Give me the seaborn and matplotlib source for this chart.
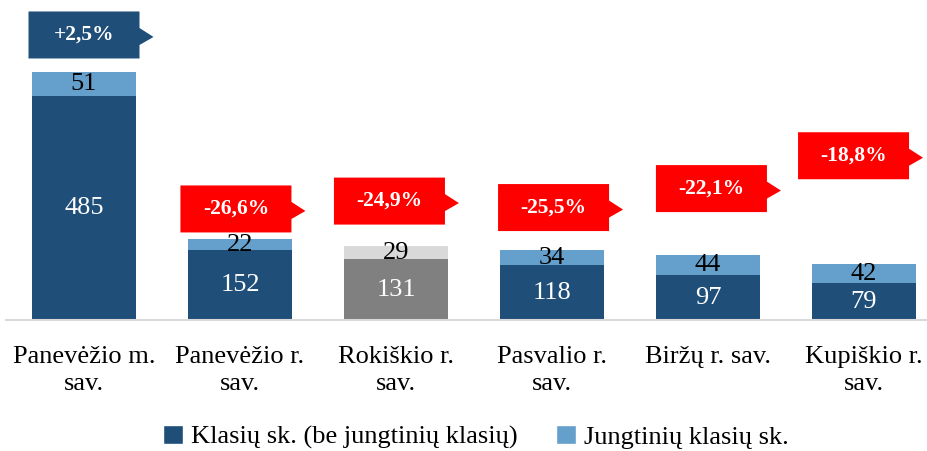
import numpy as np
import pandas as pd
import matplotlib
matplotlib.use("Agg")
import matplotlib.pyplot as plt
from matplotlib.patches import Patch, Polygon
import seaborn as sns

# Data
categories = ["Panevėžio m.\nsav.", "Panevėžio r.\nsav.", "Rokiškio r.\nsav.",
              "Pasvalio r.\nsav.", "Biržų r. sav.", "Kupiškio r.\nsav."]
classes = [485, 152, 131, 118, 97, 79]          # Klasių sk. (be jungtinių klasių)
joint_classes = [51, 22, 29, 34, 44, 42]        # Jungtinių klasių sk.
change_labels = ["+2,5%", "-26,6%", "-24,9%", "-25,5%", "-22,1%", "-18,8%"]

# Callout placement (x in category units, y in value units)
callout_x = [0.0, 0.974, 1.958, 3.01, 4.022, 4.933]
callout_y = [616, 240, 257, 243, 284, 355]

DARK = "#1F4E79"
LIGHT = "#659FCB"
GRAY = "#808080"
LGRAY = "#D9D9D9"
base_colors = [DARK, DARK, GRAY, DARK, DARK, DARK]
top_colors = [LIGHT, LIGHT, LGRAY, LIGHT, LIGHT, LIGHT]
callout_colors = [DARK, "#FF0000", "#FF0000", "#FF0000", "#FF0000", "#FF0000"]

sns.set_theme(style="white")
plt.rcParams["font.family"] = ["Liberation Serif", "DejaVu Serif"]
plt.rcParams["text.color"] = "black"
plt.rcParams["xtick.color"] = "black"

df = pd.DataFrame({"cat": categories, "base": classes, "top": joint_classes})
df["total"] = df["base"] + df["top"]

fig = plt.figure(figsize=(9.28, 4.51), dpi=100)
ymax = 680
px_per_unit = 0.4627
ax = fig.add_axes([6 / 928, 131 / 451, 936 / 928, ymax * px_per_unit / 451])

bw = 0.667
sns.barplot(data=df, x="cat", y="total", hue="cat", palette=top_colors,
            legend=False, width=bw, saturation=1, ax=ax, linewidth=0)
sns.barplot(data=df, x="cat", y="base", hue="cat", palette=base_colors,
            legend=False, width=bw, saturation=1, ax=ax, linewidth=0)

ax.set_ylim(0, ymax)
ax.set_xlim(-0.5, len(categories) - 0.5)
ax.set_xlabel("")
ax.set_ylabel("")
ax.set_yticks([])
for s in ["top", "right", "left"]:
    ax.spines[s].set_visible(False)
ax.spines["bottom"].set_color("#D9D9D9")
ax.spines["bottom"].set_linewidth(1.5)
ax.tick_params(axis="x", length=0, pad=19, labelsize=19, labelcolor="black")
for lbl in ax.get_xticklabels():
    lbl.set_linespacing(1.3)

# Segment value labels
for i, (b, t) in enumerate(zip(classes, joint_classes)):
    ax.text(i, b / 2, str(b), ha="center", va="center", color="white", fontsize=19)
    ax.text(i, b + t / 2, str(t), ha="center", va="center", color="black", fontsize=19)

# Percentage-change callouts with a right-pointing tab
fig.canvas.draw()
inv = ax.transData.inverted()
w, h = 111, 47
for x, y, txt, col in zip(callout_x, callout_y, change_labels, callout_colors):
    cx, cy = ax.transData.transform((x, y))
    pts_px = [(cx - w / 2, cy + h / 2), (cx + w / 2, cy + h / 2),
              (cx + w / 2, cy + 7), (cx + w / 2 + 14, cy - 2),
              (cx + w / 2, cy - 10), (cx + w / 2, cy - h / 2),
              (cx - w / 2, cy - h / 2)]
    pts = inv.transform(pts_px)
    ax.add_patch(Polygon(pts, closed=True, facecolor=col, edgecolor="none",
                         clip_on=False, zorder=5))
    ax.text(x, y, txt, ha="center", va="center", color="white", fontsize=15.5,
            fontweight="bold", zorder=6)

handles = [Patch(facecolor=DARK, label="Klasių sk. (be jungtinių klasių)"),
           Patch(facecolor=LIGHT, label="Jungtinių klasių sk.")]
fig.legend(handles=handles, loc="center", bbox_to_anchor=(0.5 + 12 / 928, 14 / 451),
           ncol=2, frameon=False, fontsize=19, handlelength=0.75, handleheight=0.75,
           handletextpad=0.3, columnspacing=1.45, borderaxespad=0)

fig.savefig("out.png", dpi=100)
